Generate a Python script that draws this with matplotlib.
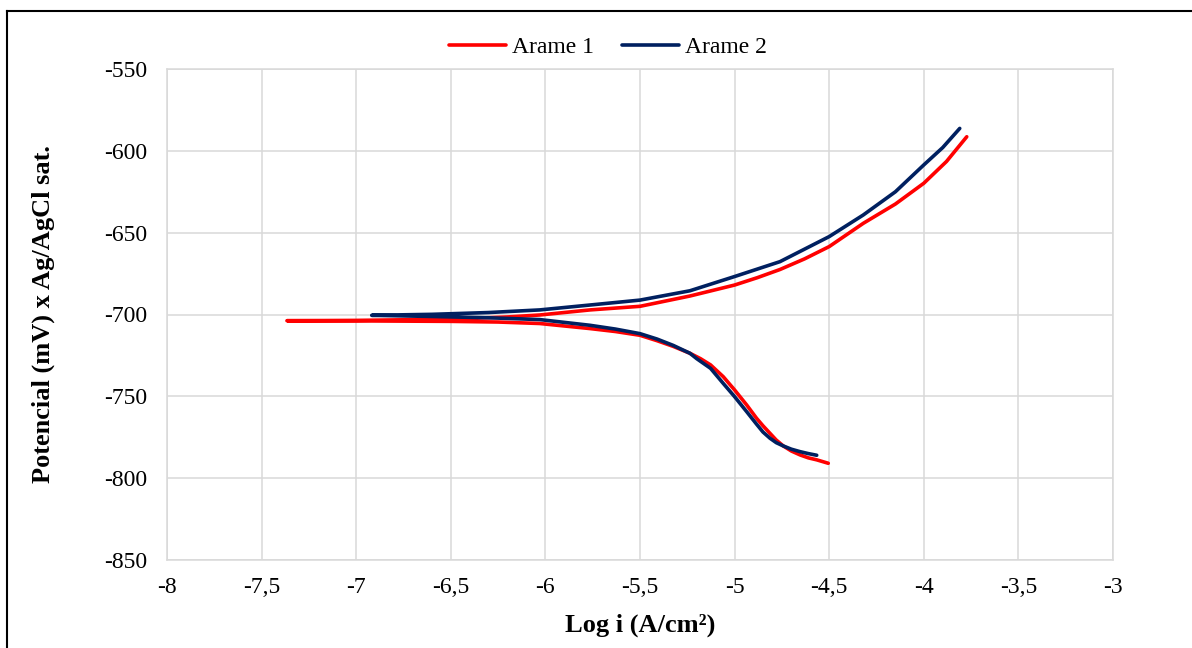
import matplotlib

matplotlib.use("Agg")
import matplotlib.pyplot as plt
from matplotlib.lines import Line2D
from matplotlib.ticker import FuncFormatter, MultipleLocator

# --- Data (log i in A/cm², potential in mV vs Ag/AgCl sat.) ---------------------
# Each wire is one polarisation sweep: cathodic end -> corrosion point -> anodic end.
arame1_log_i = [
    -4.505, -4.566, -4.61, -4.654, -4.70, -4.743, -4.78, -4.813, -4.85, -4.884,
    -4.936, -5.0, -5.06, -5.127, -5.18, -5.236, -5.324, -5.41, -5.5, -5.63,
    -5.764, -6.03, -6.25, -6.5, -7.0, -7.366,
    -7.0, -6.66, -6.4, -6.2, -6.03, -5.764, -5.5, -5.236, -5.0, -4.88,
    -4.76, -4.63, -4.5, -4.32, -4.15, -4.0, -3.88, -3.773,
]
arame1_mv = [
    -790.9, -788.8, -787.6, -785.8, -783.4, -780.3, -776.7, -772.6, -768.0, -763.4,
    -755.3, -746.1, -738.0, -730.8, -727.0, -723.7, -719.5, -716.0, -712.7, -710.4,
    -708.6, -705.5, -704.6, -704.2, -703.9, -703.8,
    -703.6, -703.1, -702.4, -701.5, -700.3, -697.2, -695.0, -688.7, -682.0, -677.5,
    -672.5, -666.0, -658.5, -644.3, -632.5, -619.8, -606.5, -591.4,
]

arame2_log_i = [
    -4.566, -4.61, -4.654, -4.70, -4.743, -4.78, -4.813, -4.85, -4.884, -4.936,
    -5.0, -5.06, -5.127, -5.2, -5.236, -5.324, -5.41, -5.5, -5.63, -5.764,
    -6.03, -6.3, -6.6, -6.918,
    -6.6, -6.3, -6.03, -5.764, -5.5, -5.236, -5.0, -4.76, -4.5, -4.32,
    -4.15, -4.0, -3.9, -3.81,
]
arame2_mv = [
    -786.0, -785.0, -783.8, -782.3, -780.3, -778.3, -775.6, -771.8, -767.0, -759.4,
    -750.2, -742.1, -732.9, -727.0, -723.7, -718.9, -715.0, -711.7, -708.9, -706.6,
    -703.1, -702.0, -701.2, -700.5,
    -699.9, -698.8, -697.2, -694.2, -691.2, -685.5, -676.8, -667.7, -652.4, -639.2,
    -625.0, -608.6, -598.0, -586.3,
]

series = [
    ("Arame 1", arame1_log_i, arame1_mv, "#ff0000"),
    ("Arame 2", arame2_log_i, arame2_mv, "#002060"),
]

plt.rcParams["font.family"] = ["Liberation Serif", "DejaVu Serif"]
plt.rcParams["axes.unicode_minus"] = False
GRID = "#d9d9d9"

fig = plt.figure(figsize=(11.92, 6.48), dpi=100)
ax = fig.add_axes([167 / 1192, 1 - 560 / 648, 946 / 1192, 491 / 648])

for name, x, y, col in series:
    ax.plot(x, y, color=col, lw=2.6, solid_capstyle="round", solid_joinstyle="round",
            label=name)

ax.set_xlim(-8, -3)
ax.set_ylim(-850, -550)
ax.xaxis.set_major_locator(MultipleLocator(0.5))
ax.yaxis.set_major_locator(MultipleLocator(50))
ax.xaxis.set_major_formatter(FuncFormatter(lambda v, _: f"{v:g}".replace(".", ",")))
ax.grid(True, color=GRID, lw=1.1)
ax.set_axisbelow(True)
for s in ax.spines.values():
    s.set_color(GRID)
    s.set_linewidth(1.1)
ax.tick_params(length=0, labelsize=17, colors="black")
ax.tick_params(axis="x", pad=12)
ax.tick_params(axis="y", pad=14)

ax.set_xlabel("Log i (A/cm²)", fontsize=19, fontweight="bold")
ax.set_ylabel("Potencial (mV) x Ag/AgCl sat.", fontsize=19, fontweight="bold")
ax.xaxis.set_label_coords(0.5, -0.11)
ax.yaxis.set_label_coords(-0.118, 0.5)

fig.legend(loc="center", bbox_to_anchor=(608 / 1192, 1 - 47 / 648), ncol=2,
           frameon=False, fontsize=17, handlelength=2.4, handletextpad=0.25,
           columnspacing=1.2)

# chart frame (top and left edges only)
top = 1 - 10.5 / 648
left = 7.5 / 1192
fig.add_artist(Line2D([left, 1], [top, top], color="black", lw=1.5,
                      transform=fig.transFigure))
fig.add_artist(Line2D([left, left], [0, top], color="black", lw=1.5,
                      transform=fig.transFigure))

fig.savefig("out.png", dpi=100)
